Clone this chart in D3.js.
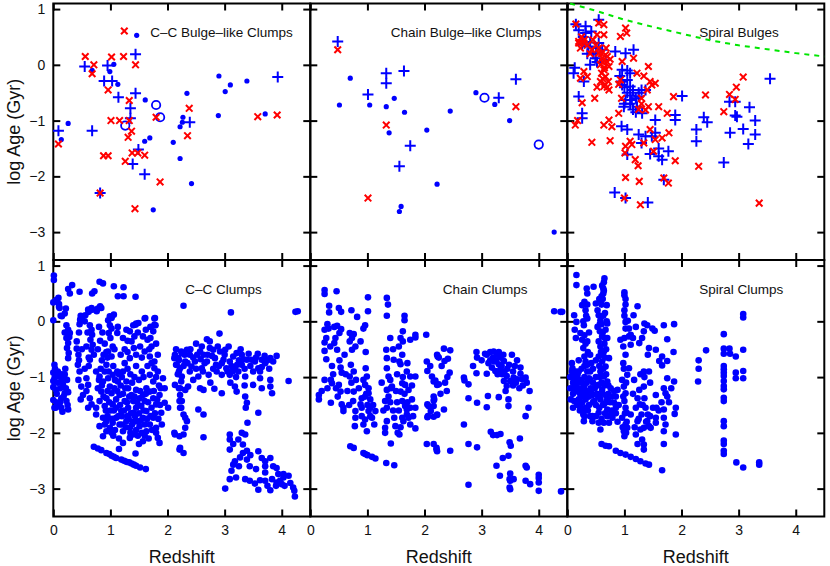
<!DOCTYPE html>
<html>
<head>
<meta charset="utf-8">
<script src="https://cdn.jsdelivr.net/npm/d3@7"></script>
<style>
  body { margin: 0; background: #fff; }
  svg text { font-family: "Liberation Sans", Arial, Helvetica, sans-serif; fill: #111; }
</style>
</head>
<body>
<svg id="chart" width="830" height="566"></svg>
<script>
// ---- data: [redshift, log Age (Gyr)] ----

const xTicks = [0, 1, 2, 3, 4];
const yTicks = [-3, -2, -1, 0, 1];

// C-C bulge-like clumps
const ccBulgeDots = [[1.46,0.53],[1.06,0.01],[0.99,-0.12],[0.68,-0.10],[1.13,-0.35],[1.61,-0.63],[0.14,-1.34],[0.26,-1.05],[1.60,-1.37],[1.69,-1.31],[2.10,-1.39],[2.22,-1.11],[2.27,-0.94],[2.26,-1.03],[2.34,-0.51],[2.22,-1.68],[2.42,-2.13],[1.75,-2.60],[2.90,-0.20],[3.01,-0.48],[3.10,-0.36],[3.39,-0.29],[2.89,-0.91],[3.71,-0.88]];
const ccBulgePlus = [[0.55,-0.03],[0.95,-0.01],[1.44,0.19],[0.89,-0.29],[1.03,-0.29],[1.14,-0.58],[1.44,-0.51],[1.35,-0.78],[1.35,-0.96],[0.68,-1.18],[0.09,-1.18],[1.49,-1.52],[1.39,-1.78],[1.60,-1.96],[0.82,-2.30],[2.39,-1.03],[3.93,-0.22]];
const ccBulgeRings = [[1.26,-1.09],[1.80,-0.72],[1.87,-0.94]];
const ccBulgeCross = [[0.56,0.15],[0.71,0.0],[0.68,-0.16],[1.02,0.14],[1.23,0.15],[1.44,0.0],[0.96,-0.45],[1.33,-0.64],[1.01,-1.0],[1.16,-1.0],[1.33,-1.0],[1.37,-1.19],[1.31,-1.30],[0.09,-1.42],[0.88,-1.63],[0.96,-1.63],[1.26,-1.73],[1.38,-1.58],[1.48,-1.58],[1.60,-1.62],[1.80,-0.94],[2.38,-0.78],[2.35,-1.27],[1.87,-2.10],[0.82,-2.30],[1.43,-2.58],[3.58,-0.93],[3.92,-0.90]];

// Chain bulge-like clumps
const chainBulgeDots = [[0.70,-0.24],[0.51,-0.72],[1.04,-0.72],[1.33,-0.75],[1.47,-0.60],[1.65,-0.85],[1.38,-1.22],[2.04,-1.17],[2.45,-0.83],[2.90,-0.50],[3.23,-0.71],[3.49,-1.00],[2.22,-2.14],[1.59,-2.54],[1.56,-2.63],[4.27,-3.00]];
const chainBulgePlus = [[0.48,0.42],[1.33,-0.15],[1.33,-0.33],[1.64,-0.11],[1.01,-0.53],[1.75,-1.45],[1.56,-1.82],[3.30,-0.59],[3.60,-0.26]];
const chainBulgeRings = [[3.05,-0.59],[4.00,-1.43]];
const chainBulgeCross = [[0.48,0.27],[1.33,-1.08],[1.01,-2.39],[3.60,-0.75]];

// Spiral bulges
const spiralBulgePlus = [[0.15,0.73],[0.32,0.69],[0.55,0.81],[0.32,0.57],[0.26,0.36],[0.37,0.33],[0.55,0.39],[0.61,0.27],[0.84,0.24],[1.02,0.21],[1.16,0.27],[0.49,0.12],[0.67,0.09],[0.11,-0.15],[0.29,-0.30],[0.20,-0.57],[0.26,-0.87],[0.26,-0.96],[0.96,-0.09],[1.10,-0.15],[1.05,-0.27],[0.96,-0.36],[1.10,-0.39],[1.37,-0.45],[1.25,-0.57],[1.02,-0.63],[1.13,-0.63],[1.22,-0.75],[0.99,-0.75],[1.31,-0.87],[1.54,-0.99],[1.05,-1.16],[1.37,-1.28],[1.48,-1.28],[1.54,-1.22],[1.77,-1.55],[1.60,-1.64],[1.66,-1.70],[1.05,-1.61],[1.69,-2.06],[0.83,-2.29],[1.02,-2.39],[1.41,-2.47],[2.01,-0.56],[1.89,-0.90],[1.89,-0.99],
  [3.55,-0.25],[2.84,-0.66],[2.94,-0.66],[3.19,-0.76],[2.94,-0.91],[2.97,-0.93],[3.29,-1.00],[2.39,-0.94],[2.45,-1.03],[2.26,-1.16],[2.26,-1.37],[2.85,-1.22],[3.08,-1.15],[3.29,-1.25],[3.17,-1.42],[2.74,-1.75],
  [0.40,0.40],[0.45,0.20],[0.50,0.30],[0.35,0.20],[0.52,0.05],[0.28,0.50],[0.20,0.62],[0.42,0.60],[0.95,-0.30],[1.00,-0.40],[1.05,-0.50],[1.10,-0.55],[1.15,-0.45],[1.20,-0.60],[1.25,-0.50],[1.30,-0.45],[1.00,-0.70],[1.10,-0.70],[1.15,-0.80],[1.20,-0.85],[0.92,-0.20],[1.05,-0.10],[1.25,-1.25],[1.30,-1.40],[1.60,-1.50],[1.45,-1.60],[0.13,-0.05],[0.40,0.00],[0.95,-1.10]];
const spiralBulgeCross = [[0.15,0.73],[0.55,0.75],[0.64,0.72],[1.02,0.66],[1.04,0.57],[0.93,0.51],[0.52,0.54],[0.64,0.54],[0.20,0.39],[0.29,0.39],[0.23,0.30],[0.43,0.27],[0.55,0.21],[0.61,0.12],[0.67,0.18],[0.69,0.06],[0.73,-0.03],[0.64,-0.09],[1.16,0.12],[0.96,0.06],[1.42,-0.03],[0.29,-0.12],[0.23,-0.24],[0.35,-0.21],[0.67,-0.21],[0.72,-0.30],[0.64,-0.39],[0.52,-0.40],[0.73,-0.45],[0.48,-0.60],[0.26,-0.68],[0.93,-0.27],[1.22,-0.15],[1.34,-0.20],[1.48,-0.36],[1.54,-0.33],[1.42,-0.75],[1.37,-0.81],[1.60,-0.75],[1.86,-0.57],[1.75,-0.87],[0.90,-0.87],[0.73,-0.99],[0.64,-1.08],[0.78,-1.11],[0.14,-1.08],[0.18,-1.00],[0.43,-1.39],[0.75,-1.36],[1.02,-1.46],[1.10,-1.37],[1.13,-1.43],[1.01,-1.58],[1.34,-1.40],[1.45,-1.16],[1.54,-1.34],[1.66,-1.31],[1.78,-1.22],[1.51,-1.55],[1.19,-1.70],[1.24,-1.81],[1.89,-1.72],[1.69,-2.03],[1.77,-2.12],[1.02,-2.02],[1.26,-2.09],[1.00,-2.39],[1.28,-2.51],[2.30,-1.82],[2.42,-0.54],[2.74,-0.84],[2.84,-0.53],[2.94,-0.62],[2.96,-0.40],[3.08,-0.22],[3.36,-2.48],
  [0.60,0.20],[0.62,0.05],[0.65,-0.05],[0.70,0.15],[0.58,0.00],[0.60,-0.15],[0.66,-0.35],[0.62,-0.25],[0.70,-0.40],[0.55,0.30],[0.50,0.35],[0.45,0.45],[0.30,0.45],[0.25,0.50],[0.20,0.42],[0.35,0.35],[0.40,0.20],[0.90,-0.35],[0.95,-0.60],[1.25,-0.80],[1.30,-0.70],[1.30,-0.60],[1.45,-0.30],[1.40,-0.45],[0.58,-0.30],[0.68,0.30],[0.75,0.10]];

// age-of-universe limit in the Spiral Bulges panel
const ageLimitZ = [0.05, 0.5, 1.0, 1.5, 2.0, 2.5, 3.0, 3.5, 4.0, 4.5];
const ageLimitLog = [1.10, 0.97, 0.81, 0.68, 0.56, 0.44, 0.35, 0.28, 0.21, 0.15];

// C-C clumps
const ccClumps = [[0.01,0.82],[0.01,0.74],[0.26,0.58],[0.29,0.50],[0.33,0.65],[0.46,0.53],[0.68,0.50],[0.72,0.54],[0.81,0.71],[0.87,0.68],[1.06,0.63],[1.23,0.61],[1.13,0.45],[1.23,0.45],[1.44,0.44],
  [0.00,0.34],[0.09,0.42],[0.10,0.31],[0.11,0.24],[0.00,0.02],[0.05,0.38],[0.10,0.26],[0.20,0.14],[0.22,0.23],[0.56,0.11],[0.62,0.17],[0.68,0.21],[0.78,0.23],[0.84,0.24],[0.96,0.02],[1.02,0.08],[1.06,0.12],[0.13,0.10],[0.15,0.09],[0.47,0.03],[0.50,0.06],[0.61,0.21],[0.67,0.24],[0.76,0.18],[0.82,0.27],[0.99,0.09],[1.02,0.06],[1.61,0.06],[1.78,0.06],[1.77,-0.06],[1.44,-0.06],[1.49,-0.03],
  [0.23,-0.07],[0.26,-0.15],[0.29,-0.21],[0.23,-0.30],[0.26,-0.39],[0.24,-0.48],[0.27,-0.57],[0.26,-0.66],[0.20,-0.20],[0.28,-0.28],[0.41,-0.36],[0.41,-0.49],[0.44,-0.60],[0.45,-0.70],
  [0.64,-0.07],[0.67,-0.15],[0.68,-0.24],[0.65,-0.33],[0.69,-0.42],[0.67,-0.51],[0.71,-0.60],[0.64,-0.69],[0.62,-0.80],
  [0.99,-0.07],[1.02,-0.13],[0.97,-0.21],[1.00,-0.30],[1.04,-0.45],[0.96,-0.54],[1.02,-0.63],[1.13,-0.10],[1.12,-0.21],[1.07,-0.50],[0.93,-0.55],
  [1.34,-0.18],[1.40,-0.07],[1.45,-0.04],[1.42,-0.27],[1.37,-0.36],[1.41,-0.48],[1.45,-0.60],[1.34,-0.66],[1.25,-0.50],[1.30,-0.35],
  [1.60,0.05],[1.77,0.05],[1.79,-0.07],[1.75,-0.18],[1.57,-0.27],[1.65,-0.33],[1.72,-0.45],[1.60,-0.54],[1.69,-0.63],[1.77,-0.72],[1.83,-0.60],[1.62,-0.15],[1.70,-0.10],
  [0.02,-0.78],[0.08,-0.90],[0.02,-1.02],[0.11,-0.99],[0.17,-1.14],[0.05,-1.23],[0.20,-1.29],[0.14,-1.38],[0.23,-1.43],[0.02,-1.55],[0.14,-1.55],[0.26,-1.58],[0.00,-0.92],[0.00,-1.07],[0.00,-1.18],[0.00,-1.41],[0.04,-1.55],[0.08,-1.10],[0.12,-1.45],[0.19,-1.00],[0.21,-0.85],[0.16,-1.62],[0.26,-1.27],[0.24,-1.05],
  [0.43,-0.78],[0.46,-0.90],[0.44,-1.05],[0.49,-1.17],[0.58,-1.02],[0.61,-1.14],[0.52,-1.32],[0.64,-1.38],[0.67,-1.49],[0.61,-1.55],[0.55,-0.85],[0.48,-1.40],[0.58,-1.25],
  [0.75,-0.90],[0.81,-0.99],[0.87,-1.08],[0.93,-0.78],[0.90,-0.90],[0.96,-1.02],[0.99,-1.17],[0.84,-1.26],[1.02,-1.29],[0.93,-1.38],[0.81,-1.43],[0.90,-1.52],[0.75,-1.55],[1.04,-1.49],[1.10,-1.40],[1.16,-1.32],[1.07,-1.20],[1.13,-1.08],[1.04,-0.96],[0.85,-0.70],[0.95,-0.65],[1.05,-0.80],[0.78,-1.20],[1.12,-0.90],
  [1.22,-0.90],[1.28,-1.08],[1.31,-1.20],[1.37,-1.32],[1.45,-1.23],[1.40,-1.43],[1.51,-1.38],[1.57,-1.32],[1.63,-1.20],[1.60,-1.43],[1.25,-1.43],[1.31,-1.55],[1.45,-1.55],[1.54,-1.52],[1.19,-1.61],[1.40,-1.64],[1.20,-1.00],[1.35,-0.95],[1.50,-1.05],[1.55,-0.90],[1.45,-0.80],[1.25,-0.75],
  [1.69,-0.96],[1.77,-0.84],[1.83,-0.90],[1.92,-1.02],[1.75,-1.08],[1.69,-1.26],[1.75,-1.38],[1.80,-1.49],[1.86,-1.32],[1.95,-1.46],[2.01,-1.55],[1.89,-1.64],[1.63,-1.61],[1.95,-1.20],[1.85,-1.15],
  [0.75,-1.67],[0.87,-1.73],[0.93,-1.79],[0.81,-1.88],[0.99,-1.91],[1.04,-1.82],[1.10,-1.73],[1.16,-1.85],[1.22,-1.97],[1.28,-1.79],[1.34,-1.91],[1.40,-2.03],[1.45,-1.79],[1.51,-1.88],[1.57,-1.73],[1.63,-1.97],[1.69,-1.85],[1.75,-1.73],[1.80,-1.91],[1.83,-2.09],[1.86,-2.18],[1.22,-2.18],[1.34,-2.09],[1.57,-2.15],[0.93,-1.97],[0.87,-2.06],[1.02,-2.00],[0.90,-1.85],[1.20,-1.70],[1.45,-1.95],[1.60,-2.05],[1.30,-1.70],[1.70,-1.70],[1.05,-2.05],[1.50,-2.20],[1.38,-1.85],[1.15,-2.10],
  [0.80,-1.05],[0.85,-1.15],[0.88,-1.35],[0.92,-1.60],[0.95,-1.70],[0.98,-1.45],[1.00,-1.60],[1.03,-1.75],[1.06,-1.60],[1.08,-1.95],[1.10,-1.55],[1.12,-1.25],[1.14,-1.70],[1.17,-1.50],[1.18,-1.15],[1.20,-1.85],[1.22,-1.30],[1.24,-1.60],[1.26,-1.20],[1.27,-1.90],[1.29,-1.45],[1.32,-1.75],[1.33,-1.35],[1.35,-2.00],[1.36,-1.65],[1.38,-1.10],[1.40,-1.80],[1.42,-1.35],[1.43,-1.70],[1.47,-1.45],[1.48,-2.05],[1.50,-1.65],[1.52,-1.25],[1.53,-1.78],[1.55,-2.00],[1.58,-1.60],[1.60,-1.85],[1.62,-1.30],[1.64,-1.75],[1.66,-1.45],[1.67,-2.10],[1.72,-1.55],[1.73,-1.95],[1.76,-1.25],[1.78,-1.65],[1.80,-2.00],[1.82,-1.40],[1.84,-1.75],[1.87,-1.50],[1.90,-1.85],[0.95,-1.25],[0.97,-0.90],[1.08,-1.05],[1.15,-0.95],[1.30,-0.85],[1.42,-1.00],[1.58,-1.00],[1.65,-0.80],[1.72,-0.75],[1.80,-1.00],[1.88,-1.20],[0.83,-0.85],[0.88,-0.60],[0.78,-0.50],[0.82,-0.35],[0.86,-0.20],[0.80,-0.10],[0.90,-0.40],
  [0.45,-0.20],[0.46,-0.05],[0.48,0.10],[0.55,0.00],[0.60,-0.20],[0.58,-0.45],[0.62,-0.65],[0.50,-0.50],
  [0.03,-0.85],[0.06,-1.30],[0.10,-1.50],[0.07,-0.95],[0.12,-1.20],[0.15,-0.95],[0.18,-1.35],[0.22,-1.20],[0.25,-1.50],[0.20,-0.95],[0.05,-1.45],[0.14,-1.08],
  [1.22,-0.30],[1.28,-0.15],[1.30,-0.55],[1.48,-0.20],[1.52,-0.45],[1.55,-0.65],[1.70,-0.30],[1.68,-0.50],[1.80,-0.40],[1.18,-0.60],
  [0.71,-2.25],[0.78,-2.28],[0.84,-2.31],[0.93,-2.36],[0.98,-2.38],[1.02,-2.41],[1.06,-2.43],[1.10,-2.45],[1.19,-2.48],[1.24,-2.50],[1.28,-2.52],[1.33,-2.53],[1.37,-2.55],[1.41,-2.57],[1.45,-2.59],[1.52,-2.62],[1.62,-2.65],[1.15,-2.29],[1.44,-2.37],
  [2.24,-0.54],[2.12,-0.66],[2.15,-0.78],[2.20,-0.90],[2.24,-1.08],[2.20,-1.20],[2.21,-1.43],[2.24,-1.55],[2.12,-2.00],[2.21,-2.06],[2.21,-2.30],
  [2.28,0.28],[3.11,0.16],[4.24,0.17],[4.28,0.18],[2.91,-0.22],[2.69,-0.32],[2.74,-0.36],
  [2.13,-0.60],[2.19,-0.66],[2.25,-0.57],[2.34,-0.51],[2.39,-0.60],[2.16,-0.78],[2.22,-0.84],[2.31,-0.72],[2.42,-0.81],[2.48,-0.72],[2.57,-0.54],[2.63,-0.60],[2.60,-0.84],[2.69,-0.72],[2.74,-0.48],[2.80,-0.51],[2.83,-0.66],[2.86,-0.90],[2.92,-0.54],[2.98,-0.69],[3.01,-0.51],[3.03,-0.84],[3.09,-0.72],[3.15,-0.63],[3.21,-0.57],[3.24,-0.90],[3.30,-0.78],[3.36,-0.99],[3.39,-0.69],[3.47,-0.69],[3.53,-0.72],[3.59,-0.84],[3.65,-0.69],[3.71,-0.75],[3.80,-0.66],[3.91,-0.62],[3.30,-0.60],[3.18,-0.84],[3.09,-0.96],[2.95,-0.96],[2.72,-0.96],[2.54,-0.99],[2.39,-0.90],[2.25,-0.99],
  [2.20,-0.70],[2.30,-0.60],[2.45,-0.65],[2.50,-0.85],[2.65,-0.75],[2.78,-0.62],[2.85,-0.78],[3.00,-0.60],[3.12,-0.80],[3.25,-0.70],[3.35,-0.85],[3.45,-0.80],[3.55,-0.65],[3.65,-0.82],[3.75,-0.70],[2.35,-0.75],[2.58,-0.68],[3.05,-0.90],[3.20,-1.00],[2.90,-0.80],
  [2.15,-0.50],[2.28,-0.80],[2.40,-0.50],[2.52,-0.60],[2.62,-0.90],[2.70,-0.60],[2.80,-0.85],[2.88,-0.45],[2.95,-0.75],[3.07,-0.45],[3.14,-0.90],[3.22,-0.78],[3.28,-0.50],[3.33,-0.68],[3.42,-0.58],[3.50,-0.90],[3.58,-0.58],[3.62,-0.90],[3.70,-0.62],[3.78,-0.85],[3.85,-0.72],[2.18,-0.95],[2.45,-1.05],[2.75,-1.10],[3.10,-1.10],[3.35,-1.15],[2.50,-0.40],[2.60,-0.45],
  [2.13,-1.14],[2.22,-1.20],[2.31,-1.23],[2.36,-1.17],[2.57,-1.20],[2.63,-1.23],[2.82,-1.21],[2.95,-1.29],[3.18,-1.17],[3.21,-1.26],[3.50,-1.14],[3.62,-1.02],[3.65,-1.20],[3.80,-1.05],[3.80,-1.17],[3.83,-1.29],[4.12,-1.07],
  [2.22,-1.32],[2.25,-1.43],[2.22,-1.55],[2.28,-1.67],[2.31,-1.73],[2.34,-1.79],[2.31,-1.91],[2.28,-2.03],[2.22,-2.27],[2.28,-2.36],[2.54,-1.58],[2.63,-1.67],[2.63,-2.08],[2.13,-2.03],
  [3.36,-1.35],[3.39,-1.46],[3.37,-1.55],[3.59,-1.64],[3.40,-1.82],[3.36,-2.03],
  [3.09,-2.03],[3.09,-2.12],[3.09,-2.30],[3.24,-2.12],[3.32,-2.21],[3.30,-2.00],[3.32,-2.36],[3.59,-2.33],[3.71,-2.51],[3.80,-2.45],[3.71,-2.60],[3.71,-2.71],[3.18,-2.51],[3.15,-2.57],[3.12,-2.68],[3.09,-2.83],[3.39,-2.48],[3.44,-2.60],[3.36,-2.83],[3.44,-2.86],[3.53,-2.91],[3.01,-3.00],[3.59,-3.02],[3.80,-3.03],[3.91,-2.63],[3.94,-2.74],[3.97,-2.86],[3.91,-2.89],[4.00,-2.92],[4.03,-2.80],[4.03,-2.74],[4.12,-2.77],[3.83,-2.83],[4.20,-2.98],[4.22,-3.04],[4.23,-3.14],[3.71,-2.86],[3.27,-2.44],[3.39,-2.32],
  [3.15,-2.20],[3.25,-2.60],[3.45,-2.40],[3.55,-2.65],[3.65,-2.45],[3.75,-2.95],[3.90,-2.95],[4.05,-2.95],[4.15,-2.90],[3.20,-2.80],[3.62,-2.85],[3.85,-2.60]];

// Chain clumps
const chainClumps = [[0.25,0.56],[0.25,0.49],[0.46,0.54],[0.33,0.28],[0.33,0.16],[0.50,0.24],[0.54,0.17],[0.72,0.20],[0.82,0.08],[1.01,0.43],[1.01,0.18],[1.34,0.42],[1.36,0.30],[1.34,0.10],[1.65,0.10],[1.65,0.02],[1.62,-0.18],
  [0.25,-0.15],[0.32,-0.13],[0.25,-0.38],[0.25,-0.53],[0.28,-0.68],
  [0.42,-0.10],[0.47,-0.08],[0.54,-0.14],[0.51,-0.21],[0.44,-0.30],[0.42,-0.39],[0.47,-0.51],[0.51,-0.70],[0.53,-0.83],[0.55,-0.92],
  [0.69,-0.21],[0.73,-0.30],[0.69,-0.36],[0.76,-0.23],[0.79,-0.45],[0.73,-0.51],[0.88,-0.36],[0.71,-0.78],[0.69,-0.99],[0.76,-0.90],
  [0.96,-0.07],[0.93,-0.13],[0.97,-0.55],[0.97,-0.84],[0.99,-0.99],[0.93,-1.05],[0.96,-1.14],[1.02,-1.20],[0.96,-1.35],[1.02,-1.29],[1.05,-1.40],[1.05,-1.55],[1.02,-1.61],[1.08,-1.73],[1.12,-1.85],[0.96,-1.76],[0.99,-1.97],[1.14,-1.61],
  [0.76,-1.26],[0.75,-1.43],[0.79,-1.61],[0.79,-1.73],[0.78,-1.88],[0.90,-1.38],[0.88,-1.49],[0.90,-1.70],
  [0.25,-1.05],[0.36,-1.05],[0.38,-1.11],[0.50,-1.14],[0.53,-1.26],[0.55,-1.49],[0.58,-1.55],[0.36,-1.46],[0.15,-1.32],[0.15,-1.40],[0.58,-1.61],
  [1.33,-0.51],[1.34,-0.66],[1.34,-0.84],[1.37,-0.99],[1.40,-1.05],[1.41,-1.20],[1.34,-1.23],[1.37,-1.35],[1.31,-1.43],[1.34,-1.55],[1.34,-1.79],[1.31,-1.91],[1.31,-2.00],[1.41,-2.19],[1.47,-1.73],[1.49,-1.88],[1.53,-2.00],[1.43,-1.17],
  [1.46,-0.69],[1.56,-0.72],[1.58,-0.77],[1.61,-0.60],[1.58,-0.30],[1.62,-0.36],[1.75,-0.33],[1.84,-0.24],[1.84,-0.29],
  [1.69,-0.90],[1.75,-0.99],[1.84,-0.99],[1.61,-1.11],[1.66,-1.14],[1.72,-1.23],[1.58,-1.26],[1.61,-1.43],[1.66,-1.52],[1.69,-1.58],[1.61,-1.73],[1.63,-1.79],[1.69,-1.67],[1.75,-1.55],[1.84,-1.55],[1.84,-1.92],[1.75,-1.85],[1.72,-1.73],[1.56,-2.03],
  [0.30,-0.05],[0.28,-0.30],[0.35,-0.45],[0.38,-0.80],[0.40,-0.95],[0.45,-1.20],[0.48,-1.35],[0.30,-1.20],[0.20,-1.25],[0.60,-0.60],[0.62,-0.95],[0.65,-1.25],[0.68,-1.50],[0.72,-1.10],[0.80,-1.05],[0.85,-1.20],[0.90,-1.55],[0.93,-1.85],[1.00,-1.50],[1.05,-1.70],[1.10,-1.50],[0.98,-1.30],[1.25,-1.10],[1.28,-1.60],[1.40,-1.45],[1.45,-1.60],[1.50,-1.25],[1.52,-1.45],[1.55,-1.60],[1.58,-1.90],[1.65,-1.30],[1.70,-1.45],[1.78,-1.40],[1.80,-1.70],[1.62,-1.00],[1.70,-0.75],[1.78,-1.15],[1.52,-0.95],[1.45,-0.50],[1.55,-0.45],[1.40,-0.30],
  [2.03,-0.24],[2.04,-0.72],[2.05,-0.89],[2.13,-0.99],[2.16,-1.08],[2.22,-1.14],[2.16,-1.35],[2.17,-1.40],[2.05,-1.49],[2.11,-1.61],[2.05,-1.72],[2.22,-1.67],[2.23,-0.63],
  [0.70,-2.24],[0.76,-2.27],[0.93,-2.36],[0.96,-2.38],[1.00,-2.40],[1.08,-2.43],[1.14,-2.46],[1.33,-2.54],[1.47,-2.58],
  [2.04,-2.20],[2.16,-2.20],[2.21,-2.30],
  [2.22,-0.60],[2.25,-0.65],[2.34,-0.49],[2.35,-0.71],[2.41,-0.67],[2.45,-0.52],[2.44,-0.92],[2.36,-1.10],[2.25,-1.13],[2.19,-1.06],[2.39,-1.25],[2.16,-1.42],[2.16,-1.52],[2.07,-1.52],[2.06,-1.70],[2.16,-1.71],[2.22,-1.68],[2.34,-1.58],[2.21,-2.27],[2.22,-2.33],[2.45,-2.32],
  [2.10,-0.80],[2.30,-0.80],[2.40,-1.00],[2.28,-1.30],
  [2.69,-1.01],[2.70,-1.06],[2.77,-1.13],[2.91,-0.55],[2.92,-0.65],[2.91,-0.93],[2.77,-1.38],[2.92,-1.46],[2.69,-1.85],[2.77,-2.20],[2.92,-2.26],[2.77,-2.93],[3.06,-0.58],[3.09,-0.94],[3.11,-1.34],[3.09,-1.54],[3.16,-1.98],[3.20,-2.04],[3.27,-2.04],
  [3.09,-0.60],[3.15,-0.70],[3.21,-0.54],[3.27,-0.60],[3.30,-0.77],[3.33,-0.65],[3.39,-0.71],[3.18,-0.83],[3.24,-0.89],[3.33,-0.86],[3.36,-0.95],[3.44,-0.98],[3.50,-1.07],[3.56,-1.01],[3.62,-1.04],[3.39,-1.07],[3.44,-1.16],[3.53,-0.60],[3.62,-0.70],[3.68,-0.83],[3.68,-0.94],[3.71,-1.04],[3.30,-1.36],[3.47,-1.40],[3.47,-1.52],[3.67,-2.10],[3.33,-2.02],[3.26,-2.59],[3.32,-2.77],[3.37,-2.45],[3.47,-2.41],[3.49,-2.17],[3.51,-2.23],[3.50,-2.73],[3.49,-2.83],[3.50,-2.86],[3.50,-3.01],[3.49,-2.98],[3.56,-2.83],
  [3.25,-0.70],[3.30,-0.55],[3.35,-0.80],[3.20,-0.65],[3.40,-0.90],[3.28,-0.95],[3.45,-0.85],[3.55,-0.90],[3.60,-1.10],[3.15,-0.55],
  [2.85,-0.80],[3.00,-0.70],[3.12,-0.75],[3.22,-0.72],[3.30,-0.90],[3.38,-0.60],[3.48,-0.78],[3.58,-0.80],[3.66,-1.20],[3.72,-1.15],[3.42,-1.25],[3.55,-1.15],
  [3.77,-1.01],[3.79,-1.10],[3.84,-1.25],[3.82,-1.55],[3.77,-1.70],[3.77,-2.59],[3.79,-2.62],[3.77,-2.86],[3.85,-2.92],[4.00,-2.75],[4.00,-2.81],[4.00,-2.89],[4.00,-3.04],
  [4.27,0.18],[4.38,0.17],[4.41,0.17],[4.39,-3.05]];

// Spiral clumps
const spiralClumps = [[0.16,0.83],[0.16,0.65],[0.34,0.59],[0.35,0.50],[0.46,0.62],[0.61,0.64],[0.65,0.77],[0.63,0.59],[0.63,0.50],
  [0.12,0.11],[0.13,-0.15],[0.16,-0.01],[0.15,-0.30],[0.23,-0.21],[0.26,-0.33],[0.26,0.29],[0.32,0.20],[0.35,0.05],[0.29,-0.07],[0.35,-0.36],[0.28,-0.48],[0.30,-0.63],[0.32,-0.72],[0.35,-0.78],[0.09,-0.84],[0.15,-0.90],[0.18,-0.96],[0.20,-1.05],[0.12,-1.08],[0.15,-1.17],[0.09,-1.20],[0.18,-1.26],[0.23,-1.32],[0.20,-1.40],[0.12,-1.43],[0.26,-1.46],[0.23,-1.55],[0.32,-1.55],[0.28,-1.67],[0.29,-1.79],[0.44,-1.70],[0.44,-1.79],[0.55,-1.82],[0.58,-1.94],[0.64,-1.82],[0.73,-1.82],[0.38,-1.02],[0.41,-1.20],[0.44,-1.32],[0.47,-1.43],[0.35,-0.90],
  [0.05,-1.00],[0.10,-1.10],[0.15,-1.00],[0.20,-1.20],[0.25,-1.10],[0.30,-1.00],[0.30,-1.30],[0.10,-1.30],[0.25,-0.85],[0.40,-0.90],[0.45,-1.10],[0.35,-1.25],[0.22,-1.60],[0.38,-1.50],[0.05,-1.20],[0.18,-1.50],[0.42,-0.75],[0.28,-1.20],
  [0.08,-0.90],[0.10,-1.00],[0.12,-0.95],[0.14,-1.25],[0.17,-1.10],[0.20,-0.90],[0.22,-1.05],[0.24,-1.25],[0.27,-1.35],[0.30,-1.15],[0.32,-1.40],[0.34,-1.10],[0.36,-1.60],[0.38,-1.35],[0.40,-1.05],[0.42,-1.25],[0.45,-1.45],[0.48,-1.20],[0.50,-1.50],[0.52,-1.15],[0.54,-1.35],[0.56,-1.55],[0.60,-1.30],[0.62,-1.50],[0.65,-1.15],[0.66,-1.65],[0.70,-1.40],[0.72,-1.15],[0.75,-1.45],[0.78,-1.60],[0.06,-1.40],[0.10,-1.55],[0.16,-1.45],[0.26,-1.60],[0.30,-1.70],[0.40,-1.70],[0.50,-1.70],[0.60,-1.75],[0.70,-1.70],[0.08,-0.75],[0.20,-0.70],[0.30,-0.80],[0.40,-0.60],[0.45,-0.85],[0.50,-0.70],
  [0.50,0.32],[0.53,0.20],[0.55,0.11],[0.58,0.02],[0.53,-0.10],[0.57,-0.18],[0.61,-0.27],[0.55,-0.36],[0.58,-0.45],[0.64,-0.54],[0.55,-0.63],[0.61,-0.72],[0.67,-0.81],[0.58,-0.90],[0.64,-0.99],[0.70,-1.08],[0.55,-1.14],[0.61,-1.23],[0.67,-1.32],[0.58,-1.40],[0.64,-1.49],[0.70,-1.58],[0.55,-1.64],[0.76,-1.67],[0.69,0.29],[0.70,-0.04],[0.67,-0.15],[0.73,-0.66],[0.76,-1.20],[0.79,-1.35],[0.82,-1.46],[0.85,-1.55],[0.88,-1.23],[0.85,-1.35],[0.79,-1.73],
  [0.62,0.40],[0.66,0.15],[0.60,-0.05],[0.65,-0.40],[0.62,-0.60],[0.68,-0.95],[0.60,-1.10],[0.72,-1.30],[0.50,-1.00],[0.52,-1.30],[0.70,-0.30],[0.64,0.55],[0.56,-0.80],[0.68,-1.45],
  [0.56,0.40],[0.60,0.30],[0.63,0.10],[0.57,-0.05],[0.62,-0.20],[0.66,-0.30],[0.59,-0.55],[0.66,-0.65],[0.63,-0.85],[0.57,-1.00],[0.69,0.00],[0.68,-0.50],[0.64,0.70],[0.60,0.45],
  [0.30,0.35],[0.35,0.30],[0.33,0.10],[0.28,0.00],[0.38,-0.20],[0.32,-0.40],[0.36,-0.55],[0.30,-0.25],
  [1.00,0.52],[1.00,0.47],[1.02,0.40],[1.00,0.20],[1.02,-0.01],[1.06,0.01],[1.02,-0.13],[1.08,-0.13],[1.00,-0.30],[0.93,-0.33],[0.98,-0.75],[1.08,-0.84],[1.05,-0.96],[0.96,-1.05],[0.99,-1.17],[1.02,-1.29],[1.00,-1.43],[1.02,-1.55],[1.04,-1.64],[0.96,-1.73],[1.02,-1.85],[0.99,-1.97],[1.00,-2.06],[1.05,-1.91],[1.11,-1.67],
  [0.98,-0.45],[1.02,-0.60],[0.99,-0.85],[1.03,-1.10],[0.98,-1.35],[1.01,-1.65],[1.04,-1.80],[0.97,-1.90],[1.03,-2.00],[1.02,0.30],[1.00,0.10],
  [1.08,-0.27],[1.11,-0.42],[1.26,-0.39],[1.17,-1.05],[1.26,-1.23],[1.23,-1.38],[1.27,-1.49],[1.30,-1.67],[1.23,-1.79],[1.28,-1.94],[1.20,-2.03],[1.31,-2.12],[1.23,-2.20],[1.16,0.11],[1.23,0.27],[1.11,-0.24],
  [1.35,-0.04],[1.40,-0.07],[1.34,-0.18],[1.31,-0.30],[1.43,-0.48],[1.41,-0.60],[1.55,-0.51],[1.34,-0.90],[1.43,-0.90],[1.34,-1.17],[1.35,-1.38],[1.37,-1.55],[1.41,-1.67],[1.40,-1.79],[1.34,-1.91],[1.43,-1.88],[1.55,-1.32],[1.56,-1.55],[1.55,-1.73],[1.55,-1.82],[1.46,-1.91],[1.34,-2.21],[1.34,-2.30],[1.49,-0.13],[1.53,-0.17],
  [1.15,-1.30],[1.20,-1.55],[1.25,-1.75],[1.18,-1.90],[1.32,-1.50],[1.38,-1.80],[1.45,-1.70],[1.50,-1.55],[1.35,-1.00],[1.45,-1.10],[1.28,-0.95],[1.60,-1.60],[1.65,-1.45],[1.78,-1.45],[1.82,-1.20],[1.15,-0.30],[1.20,-0.10],[0.90,-1.50],[0.85,-1.65],[0.88,-1.80],[0.82,-1.25],
  [1.69,-0.07],[1.87,-0.05],[1.75,-0.32],[1.61,-0.71],[1.66,-0.79],[1.75,-1.02],[1.69,-1.20],[1.72,-1.29],[1.75,-1.35],[1.87,-1.08],[1.90,-1.55],[1.88,-1.66],[1.69,-1.58],[1.69,-1.73],[1.72,-1.85],[1.69,-1.97],[1.69,-2.20],[1.90,-2.03],[1.66,-0.63],[1.75,-0.71],[1.86,-0.55],
  [0.60,-2.20],[0.67,-2.23],[0.73,-2.24],[0.85,-2.32],[0.93,-2.36],[1.02,-2.39],[1.11,-2.43],[1.20,-2.47],[1.28,-2.51],[1.37,-2.55],[1.43,-2.57],[1.66,-2.67],
  [2.30,-0.70],[2.30,-0.85],[2.29,-1.08],[2.43,-0.52],
  [2.74,-0.23],[2.74,-0.49],[2.74,-0.58],[2.74,-0.80],[2.74,-0.86],[2.74,-0.92],[2.74,-0.98],[2.74,-1.07],[2.74,-1.16],[2.74,-1.22],[2.74,-1.37],[2.74,-1.43],[2.74,-1.79],[2.74,-1.88],[2.74,-2.14],[2.74,-2.20],[2.74,-2.32],[2.74,-2.38],
  [2.84,-0.49],[2.85,-0.58],[2.95,-0.63],[2.95,-0.92],[2.95,-1.02],[3.08,0.13],[3.08,0.07],[3.08,-0.51],[3.08,-0.89],[3.08,-1.02],[2.96,-2.53],[3.08,-2.62],[3.36,-2.53],[3.36,-2.57]];

const panelTitles = ["C–C Bulge–like Clumps", "Chain Bulge–like Clumps", "Spiral Bulges",
                     "C–C Clumps", "Chain Clumps", "Spiral Clumps"];

// ---- layout ----
const svg = d3.select("#chart");
const colLeft = [53.3, 310.3, 567.3], rowTop = [3.5, 260];
const pw = 257, ph = 256.5;

const xs = colLeft.map(l => d3.scaleLinear().domain([0, 4.5]).range([l, l + pw]));
const ys = rowTop.map(t => d3.scaleLinear().domain([-3.5, 1.1]).range([t + ph, t]));

const panels = [
  {col: 0, row: 0, tx: 97,  dots: ccBulgeDots, plus: ccBulgePlus, rings: ccBulgeRings, cross: ccBulgeCross, key: true},
  {col: 1, row: 0, tx: 80.5, dots: chainBulgeDots, plus: chainBulgePlus, rings: chainBulgeRings, cross: chainBulgeCross},
  {col: 2, row: 0, tx: 132, plus: spiralBulgePlus, cross: spiralBulgeCross, limit: true},
  {col: 0, row: 1, tx: 132, clumps: ccClumps},
  {col: 1, row: 1, tx: 132.5, clumps: chainClumps},
  {col: 2, row: 1, tx: 132, clumps: spiralClumps}
];

const blue = "#0000ff", red = "#ff0000";
const plusPath = "M-5.5,0H5.5M0,-5.5V5.5";
const crossPath = "M-3.3,-3.3L3.3,3.3M-3.3,3.3L3.3,-3.3";

function styleAxis(g, labels) {
  g.select(".domain").remove();
  g.selectAll(".tick line").attr("stroke", "#000").attr("stroke-width", 2);
  g.selectAll(".tick text").attr("font-size", 14)
    .attr("font-family", '"Liberation Sans", Arial, sans-serif')
    .style("display", labels ? null : "none");
}

panels.forEach((p, i) => {
  const x = xs[p.col], y = ys[p.row];
  const x0 = colLeft[p.col], y0 = rowTop[p.row];
  const g = svg.append("g");

  g.append("rect").attr("x", x0).attr("y", y0).attr("width", pw).attr("height", ph)
    .attr("fill", "none").attr("stroke", "#000").attr("stroke-width", 2);

  g.append("g").attr("transform", `translate(${x0},0)`)
    .call(d3.axisLeft(y).tickValues(yTicks).tickSize(-7).tickPadding(8).tickFormat(d3.format("d")))
    .call(a => styleAxis(a, p.col === 0));
  g.append("g").attr("transform", `translate(${x0 + pw},0)`)
    .call(d3.axisRight(y).tickValues(yTicks).tickSize(-7))
    .call(a => styleAxis(a, false));
  g.append("g").attr("transform", `translate(0,${y0})`)
    .call(d3.axisTop(x).tickValues(xTicks).tickSize(-7))
    .call(a => styleAxis(a, false));
  g.append("g").attr("transform", `translate(0,${y0 + ph})`)
    .call(d3.axisBottom(x).tickValues(xTicks).tickSize(-7).tickPadding(9).tickFormat(d3.format("d")))
    .call(a => styleAxis(a, p.row === 1));

  // title
  g.append("text").attr("x", x0 + p.tx).attr("y", y0 + 33.5)
    .attr("font-size", 13.5).text(panelTitles[i]);
  if (p.key) {
    g.append("path").attr("d", crossPath)
      .attr("transform", `translate(${x0 + 71},${y0 + 27.5})`)
      .attr("stroke", red).attr("stroke-width", 2).attr("fill", "none");
  }

  if (p.limit) {
    const line = d3.line().x((d, k) => x(ageLimitZ[k])).y(d => y(d));
    g.append("path").attr("d", line(ageLimitLog))
      .attr("fill", "none").attr("stroke", "#00e600").attr("stroke-width", 2)
      .attr("stroke-dasharray", "5,5");
  }

  if (p.clumps) {
    g.selectAll(null).data(p.clumps).join("circle")
      .attr("cx", d => x(d[0])).attr("cy", d => y(d[1])).attr("r", 3.3)
      .attr("fill", blue);
  }
  if (p.dots) {
    g.selectAll(null).data(p.dots).join("circle")
      .attr("cx", d => x(d[0])).attr("cy", d => y(d[1])).attr("r", 2.6)
      .attr("fill", blue);
  }
  if (p.plus) {
    g.selectAll(null).data(p.plus).join("path")
      .attr("d", plusPath)
      .attr("transform", d => `translate(${x(d[0])},${y(d[1])})`)
      .attr("stroke", blue).attr("stroke-width", 2).attr("fill", "none");
  }
  if (p.rings) {
    g.selectAll(null).data(p.rings).join("circle")
      .attr("cx", d => x(d[0])).attr("cy", d => y(d[1])).attr("r", 4.2)
      .attr("fill", "none").attr("stroke", blue).attr("stroke-width", 1.8);
  }
  if (p.cross) {
    g.selectAll(null).data(p.cross).join("path")
      .attr("d", crossPath)
      .attr("transform", d => `translate(${x(d[0])},${y(d[1])})`)
      .attr("stroke", red).attr("stroke-width", 2).attr("fill", "none");
  }
});

// axis titles
const rowMid = rowTop.map(t => t + ph / 2);
rowMid.forEach(m => {
  svg.append("text").attr("transform", `translate(20,${m}) rotate(-90)`)
    .attr("text-anchor", "middle").attr("font-size", 18).text("log Age (Gyr)");
});
colLeft.forEach(l => {
  svg.append("text").attr("x", l + pw / 2).attr("y", 563)
    .attr("text-anchor", "middle").attr("font-size", 18).text("Redshift");
});
</script>
</body>
</html>
